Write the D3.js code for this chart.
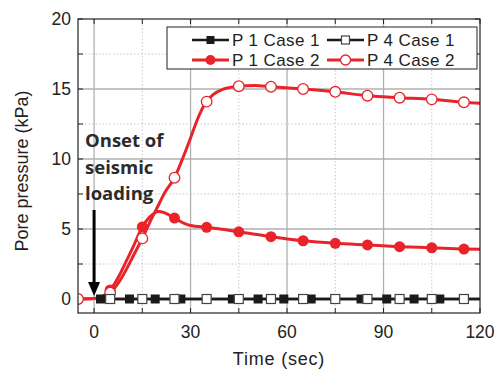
<!DOCTYPE html>
<html>
<head>
<meta charset="utf-8">
<script src="https://cdn.jsdelivr.net/npm/d3@7"></script>
<style>
    body { margin: 0; background: #fff; }
    svg { display: block; }
    .tick-label { font-family: "Liberation Sans", Arial, sans-serif; font-size: 17.5px; fill: #222; }
    .axis-title { font-family: "Liberation Sans", Arial, sans-serif; font-size: 18px; fill: #222; }
    .legend-label { font-family: "Liberation Sans", Arial, sans-serif; font-size: 17px; fill: #222; letter-spacing: 0.4px; }
    .note { font-family: "Open Sans", sans-serif; font-weight: 700; font-size: 18.5px; fill: #2b2b2b; }
</style>
</head>
<body>
<div id="chart"></div>
<script>
// ---- data ----
const xTicks = [0, 30, 60, 90, 120];
const yTicks = [0, 5, 10, 15, 20];
const markTimes = [-5, 5, 15, 25, 35, 45, 55, 65, 75, 85, 95, 105, 115];

// Case 1: both gauges stay at zero
const p1c1Time = [2, 120];
const p1c1Val = [0, 0];
const p1c1MarkTime = [2, 11, 19, 27, 35, 43, 51, 59, 67.5, 75, 83, 91, 99.5, 107.5];
const p4c1Time = [5, 120];
const p4c1Val = [0, 0];
const p4c1MarkTime = [5, 15, 25, 35, 45, 55, 65, 75, 85, 95, 105, 115];

// Case 2
const p1c2Time = [-5, 0, 2, 5, 8, 10, 12, 15, 18, 20, 22, 25, 28, 30, 35, 45, 55, 65, 75, 85, 95, 105, 115, 120];
const p1c2Val = [0, 0.03, 0.12, 0.65, 1.75, 2.7, 3.65, 5.15, 6.0, 6.25, 6.15, 5.78, 5.4, 5.25, 5.12, 4.8, 4.45, 4.16, 3.98, 3.86, 3.74, 3.66, 3.57, 3.55];
const p4c2Time = [-5, 0, 2, 5, 8, 10, 12, 15, 18, 20, 22, 25, 28, 30, 32, 34, 35, 37, 40, 42, 45, 50, 55, 65, 75, 85, 95, 105, 115, 120];
const p4c2Val = [0, 0.03, 0.1, 0.45, 1.3, 2.1, 3.0, 4.33, 5.8, 6.7, 7.6, 8.66, 10.3, 11.5, 12.75, 13.75, 14.1, 14.6, 14.98, 15.1, 15.2, 15.25, 15.16, 15.0, 14.8, 14.52, 14.38, 14.26, 14.05, 13.98];

const legendLabels = ['P 1 Case 1', 'P 4 Case 1', 'P 1 Case 2', 'P 4 Case 2'];

const RED = '#e8242a';
const BLACK = '#1a1a1a';

const width = 497, height = 369;
const margin = {left: 78, right: 17, top: 19, bottom: 56};

const svg = d3.select('#chart').append('svg')
    .attr('width', width)
    .attr('height', height);

const x = d3.scaleLinear().domain([-5, 120]).range([margin.left, width - margin.right]);
const y = d3.scaleLinear().domain([-1, 20]).range([height - margin.bottom, margin.top]);

const [x0, x1] = x.range();
const [y0, y1] = y.range();

svg.append('defs').append('clipPath').attr('id', 'plot-clip')
    .append('rect')
    .attr('x', x0).attr('y', y1)
    .attr('width', x1 - x0).attr('height', y0 - y1);

// grid
const grid = svg.append('g');
const xMajor = [0, 30, 60, 90];
const xMinor = [15, 45, 75, 105];
const yMajor = [0, 5, 10, 15];
const yMinor = [2.5, 7.5, 12.5, 17.5];

grid.selectAll('.gx-minor').data(xMinor).enter().append('line')
    .attr('x1', d => x(d)).attr('x2', d => x(d))
    .attr('y1', y0).attr('y2', y1)
    .attr('stroke', '#c8c8c8').attr('stroke-width', 1).attr('stroke-dasharray', '1.5,2');
grid.selectAll('.gy-minor').data(yMinor).enter().append('line')
    .attr('x1', x0).attr('x2', x1)
    .attr('y1', d => y(d)).attr('y2', d => y(d))
    .attr('stroke', '#c8c8c8').attr('stroke-width', 1).attr('stroke-dasharray', '1.5,2');
grid.selectAll('.gx-major').data(xMajor).enter().append('line')
    .attr('x1', d => x(d)).attr('x2', d => x(d))
    .attr('y1', y0).attr('y2', y1)
    .attr('stroke', '#b0b0b0').attr('stroke-width', 1.3);
grid.selectAll('.gy-major').data(yMajor).enter().append('line')
    .attr('x1', x0).attr('x2', x1)
    .attr('y1', d => y(d)).attr('y2', d => y(d))
    .attr('stroke', '#b0b0b0').attr('stroke-width', 1.3);

// inward ticks on all four sides
const tickX = d3.range(0, 121, 15);
const tickY = d3.range(0, 20.1, 2.5);
const ticks = svg.append('g').attr('stroke', '#222').attr('stroke-width', 1);
tickX.forEach(t => {
    ticks.append('line').attr('x1', x(t)).attr('x2', x(t)).attr('y1', y0).attr('y2', y0 - 5);
    ticks.append('line').attr('x1', x(t)).attr('x2', x(t)).attr('y1', y1).attr('y2', y1 + 5);
});
tickY.forEach(t => {
    ticks.append('line').attr('x1', x0).attr('x2', x0 + 5).attr('y1', y(t)).attr('y2', y(t));
    ticks.append('line').attr('x1', x1).attr('x2', x1 - 5).attr('y1', y(t)).attr('y2', y(t));
});

// tick labels
svg.append('g').selectAll('text').data(xTicks).enter().append('text')
    .attr('class', 'tick-label')
    .attr('x', d => x(d)).attr('y', y0 + 25)
    .attr('text-anchor', 'middle')
    .text(d => d);
svg.append('g').selectAll('text').data(yTicks).enter().append('text')
    .attr('class', 'tick-label')
    .attr('x', x0 - 7).attr('y', d => y(d) + 6)
    .attr('text-anchor', 'end')
    .text(d => d);

// axis titles
svg.append('text').attr('class', 'axis-title')
    .attr('x', (x0 + x1) / 2).attr('y', height - 4)
    .attr('text-anchor', 'middle')
    .style('letter-spacing', '0.8px')
    .text('Time (sec)');
svg.append('text').attr('class', 'axis-title')
    .attr('transform', `translate(28,171) rotate(-90)`)
    .attr('text-anchor', 'middle')
    .text('Pore pressure (kPa)');

// series
const toPts = (ts, vs) => ts.map((t, i) => ({t: t, v: vs[i]}));
const line = d3.line().x(d => x(d.t)).y(d => y(d.v)).curve(d3.curveMonotoneX);

const plot = svg.append('g').attr('clip-path', 'url(#plot-clip)');

const p1c2 = toPts(p1c2Time, p1c2Val);
const p4c2 = toPts(p4c2Time, p4c2Val);

function drawLine(pts, color, w) {
    plot.append('path').datum(pts)
        .attr('d', line)
        .attr('fill', 'none')
        .attr('stroke', color)
        .attr('stroke-width', w)
        .attr('stroke-linejoin', 'round');
}

function drawCircles(pts, filled) {
    plot.append('g').selectAll('circle').data(pts).enter().append('circle')
        .attr('cx', d => x(d.t)).attr('cy', d => y(d.v))
        .attr('r', filled ? 5.5 : 5.3)
        .attr('fill', filled ? RED : '#fff')
        .attr('stroke', RED).attr('stroke-width', filled ? 0 : 1.3);
}

function drawSquares(pts, filled) {
    plot.append('g').selectAll('rect').data(pts).enter().append('rect')
        .attr('x', d => x(d.t) - 4.5).attr('y', d => y(d.v) - 4.5)
        .attr('width', 9).attr('height', 9)
        .attr('fill', filled ? BLACK : '#fff')
        .attr('stroke', filled ? BLACK : '#444').attr('stroke-width', filled ? 0 : 1.2);
}

drawLine(p1c2, RED, 3);
drawCircles(p1c2.filter(d => markTimes.includes(d.t)), true);
drawLine(p4c2, RED, 3);
drawCircles(p4c2.filter(d => markTimes.includes(d.t)), false);

drawLine(toPts(p1c1Time, p1c1Val), BLACK, 2.6);
drawLine(toPts(p4c1Time, p4c1Val), BLACK, 2.6);
drawSquares(p1c1MarkTime.map(t => ({t: t, v: 0})), true);
drawSquares(p4c1MarkTime.map(t => ({t: t, v: 0})), false);

// frame
svg.append('rect')
    .attr('x', x0).attr('y', y1)
    .attr('width', x1 - x0).attr('height', y0 - y1)
    .attr('fill', 'none').attr('stroke', '#222').attr('stroke-width', 1.2);

// annotation
const note = svg.append('text').attr('class', 'note');
['Onset of', 'seismic', 'loading'].forEach((s, i) => {
    note.append('tspan').attr('x', x0 + 7).attr('y', 147 + i * 26.5).text(s);
});
svg.append('line')
    .attr('x1', x(0)).attr('x2', x(0))
    .attr('y1', 210).attr('y2', 284)
    .attr('stroke', '#000').attr('stroke-width', 3);
svg.append('path')
    .attr('d', `M${x(0) - 6},282 L${x(0) + 6},282 L${x(0)},296 Z`)
    .attr('fill', '#000');

// legend
const lg = svg.append('g');
lg.append('rect')
    .attr('x', 167).attr('y', 27)
    .attr('width', 310).attr('height', 42)
    .attr('fill', '#fff').attr('stroke', '#222').attr('stroke-width', 1);

const legendItems = [
    {label: legendLabels[0], color: BLACK, shape: 'square', filled: true, col: 0, row: 0},
    {label: legendLabels[1], color: BLACK, shape: 'square', filled: false, col: 1, row: 0},
    {label: legendLabels[2], color: RED, shape: 'circle', filled: true, col: 0, row: 1},
    {label: legendLabels[3], color: RED, shape: 'circle', filled: false, col: 1, row: 1}
];
const colX = [192, 327];
legendItems.forEach(it => {
    const lx = colX[it.col];
    const ly = 40 + it.row * 20;
    const g = lg.append('g');
    g.append('line')
        .attr('x1', lx).attr('x2', lx + 37).attr('y1', ly).attr('y2', ly)
        .attr('stroke', it.color).attr('stroke-width', it.color === RED ? 3 : 2.4);
    if (it.shape === 'square') {
        g.append('rect')
            .attr('x', lx + 18.5 - 4).attr('y', ly - 4)
            .attr('width', 8).attr('height', 8)
            .attr('fill', it.filled ? BLACK : '#fff')
            .attr('stroke', it.filled ? BLACK : '#444').attr('stroke-width', it.filled ? 0 : 1.2);
    } else {
        g.append('circle')
            .attr('cx', lx + 18.5).attr('cy', ly).attr('r', 5)
            .attr('fill', it.filled ? RED : '#fff')
            .attr('stroke', RED).attr('stroke-width', it.filled ? 0 : 1.3);
    }
    g.append('text').attr('class', 'legend-label')
        .attr('x', lx + 40).attr('y', ly + 6)
        .text(it.label);
});
</script>
</body>
</html>
